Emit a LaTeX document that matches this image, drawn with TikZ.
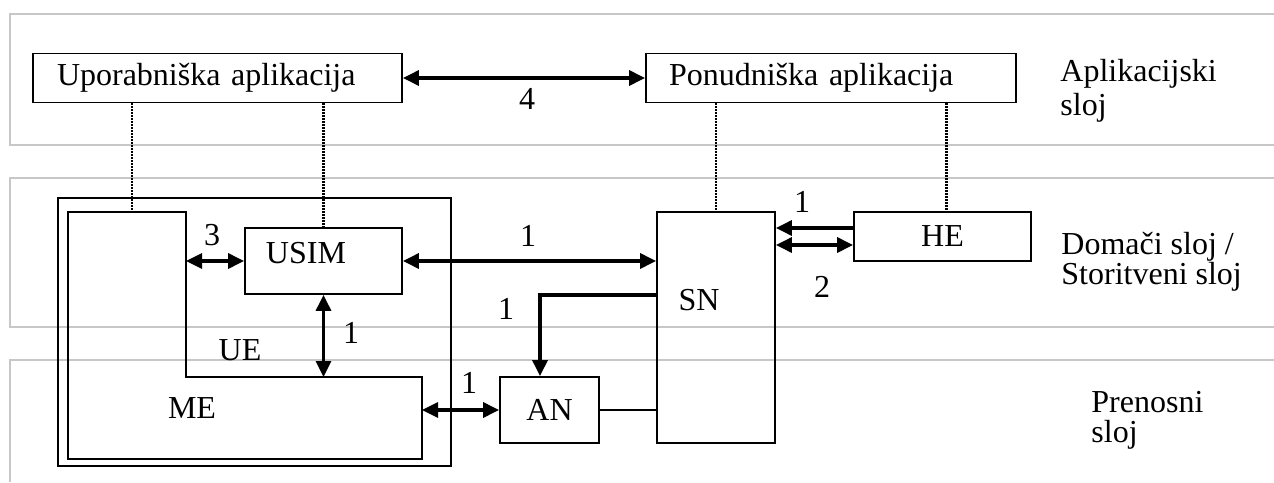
\documentclass[tikz,border=0pt]{standalone}
\usepackage{fontspec}
\setmainfont{Liberation Serif}
\usetikzlibrary{arrows.meta}
\setlength{\lineskiplimit}{-20pt}
\begin{document}
\begin{tikzpicture}[x=0.5pt,y=-0.5pt,
  font=\fontsize{16}{19}\selectfont,
  layer/.style={draw=black!22,line width=1pt},
  box/.style={draw,line width=0.9pt,inner sep=0pt},
  twoway/.style={line width=1.6pt,{Triangle[length=8pt,width=7.5pt]}-{Triangle[length=8pt,width=7.5pt]}},
  oneway/.style={line width=1.6pt,-{Triangle[length=8pt,width=7.5pt]}},
  tie/.style={line width=1.2pt,dash pattern=on 1pt off 0.5pt},
  lbl/.style={inner sep=0pt}]
\useasboundingbox (0,0) rectangle (1274,482);
% sloji
\draw[layer] (1274,14) -- (10,14) -- (10,145) -- (1274,145);
\draw[layer] (1274,178) -- (10,178) -- (10,327) -- (1274,327);
\draw[layer] (1274,360) -- (10,360) -- (10,482);
\node[lbl,anchor=west,align=left,font=\fontsize{16}{17}\selectfont] (aplsloj) at (1060,91) {Aplikacijski\\sloj};
\node[lbl,anchor=west,align=left,font=\fontsize{16}{15}\selectfont] (domsloj) at (1061,262) {Domači sloj /\\Storitveni sloj};
\node[lbl,anchor=west,align=left,font=\fontsize{16}{15}\selectfont] (prensloj) at (1091,420) {Prenosni\\sloj};
% bloki
\node[box,minimum width=184.5pt,minimum height=24.5pt,text width=160.5pt,align=left] (ua) at (217.5,78) {Uporabniška aplikacija};
\node[box,minimum width=185pt,minimum height=24.5pt,text width=162pt,align=left] (pa) at (831,78) {Ponudniška aplikacija};
\node[box,minimum width=196.5pt,minimum height=134pt] (ue) at (254.5,332) {};
\node[box,minimum width=78.5pt,minimum height=33pt] (usim) at (323.5,261) {};
\node[box,minimum width=59pt,minimum height=115.5pt] (sn) at (716,327.5) {};
\node[box,minimum width=88.5pt,minimum height=24.5pt] (he) at (942.5,236.5) {HE};
\node[box,minimum width=49.5pt,minimum height=33pt] (an) at (549.5,410) {AN};
\draw[box] (68,212) coordinate (me) -- (186,212) coordinate (me-a) -- (186,377) coordinate (me-b)
  -- (422,377) coordinate (me-c) -- (422,459) -- (68,459) -- cycle;
\coordinate (me-top) at (132,212);
\node[lbl] (usimtxt) at (306,253) {USIM};
\node[lbl] (sntxt) at (699,300) {SN};
\node[lbl] (uetxt) at (240,350) {UE};
\node[lbl] (metxt) at (192,408) {ME};
% povezave
\draw[twoway] (ua.east) -- (pa.west);
\draw[tie] (ua.south -| me-top) -- (me-top);
\draw[tie] (ua.south -| usim.north) -- (usim.north);
\draw[tie] (pa.south -| sn.north) -- (sn.north);
\draw[tie] ([xshift=2pt]pa.south -| he.north) -- ([xshift=2pt]he.north);
\draw[twoway] (usim.west -| me-a) -- (usim.west);
\draw[twoway] (usim.east) -- (usim.east -| sn.west);
\draw[twoway] (usim.south) -- (usim.south |- me-b);
\draw[oneway] (usim.south -| sn.west) -| ([xshift=-4.75pt]an.north);
\draw[twoway] (an.west -| me-c) -- (an.west);
\draw[box] (an.east) -- (an.east -| sn.west);
\draw[oneway] ([yshift=4.25pt]he.west) -- ([yshift=4.25pt]he.west -| sn.east);
\draw[twoway] ([yshift=-4.25pt]he.west -| sn.east) -- ([yshift=-4.25pt]he.west);
\node[lbl] (v4) at (527,99) {4};
\node[lbl] (v3) at (212,235) {3};
\node[lbl] (v1a) at (528,236) {1};
\node[lbl] (v1b) at (506,309) {1};
\node[lbl] (v1c) at (351,333) {1};
\node[lbl] (v1d) at (469,383) {1};
\node[lbl] (v1e) at (802,202) {1};
\node[lbl] (v2) at (822,287) {2};
\end{tikzpicture}
\end{document}
